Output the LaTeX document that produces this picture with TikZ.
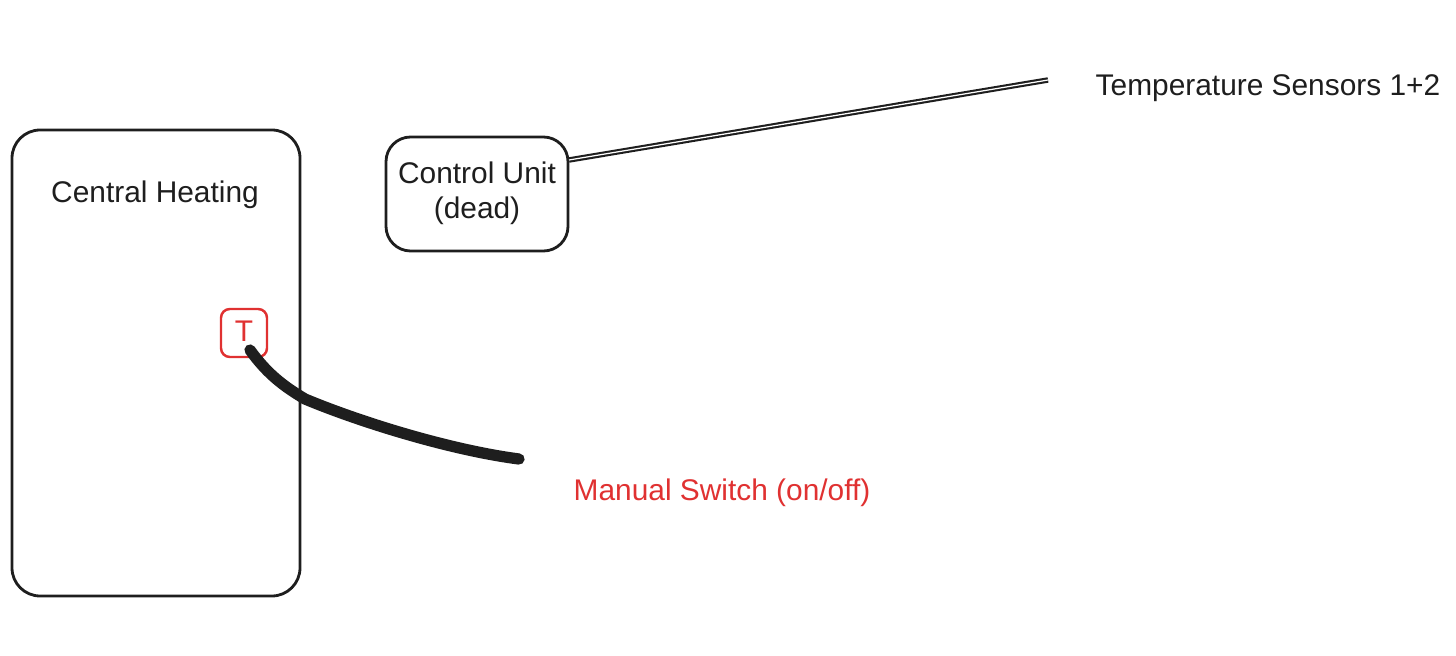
\documentclass[tikz,border=0pt]{standalone}
\usepackage{fontspec}
\setmainfont{Liberation Sans}
\definecolor{exred}{HTML}{E03131}
\definecolor{exblack}{HTML}{1E1E1E}
\tikzset{
  box/.style={draw=exblack, line width=0.8pt, rounded corners=8pt, inner sep=0pt},
  redbox/.style={draw=exred, line width=0.7pt, rounded corners=2.5pt, inner sep=0pt},
  lbl/.style={font=\fontsize{8.5}{10}\selectfont, text=exblack, align=center},
}
\begin{document}
\begin{tikzpicture}
\useasboundingbox (0,0) rectangle (14.56,6.55);
% Central Heating box
\node[box, minimum width=2.88cm, minimum height=4.66cm] (ch) at (1.56,2.92) {};
\node[lbl] (chl) at (1.55,4.60) {Central Heating};
% Control unit
\node[box, minimum width=1.82cm, minimum height=1.14cm, rounded corners=7pt] (cu) at (4.77,4.61) {};
\node[lbl] (cul) at (4.77,4.62) {Control Unit\\(dead)};
% Temperature sensors
\node[lbl, anchor=west, inner sep=0pt] (ts) at (10.95,5.67) {Temperature Sensors 1+2};
\coordinate (tsend) at (10.48,5.75);
\coordinate (cuout) at (5.69,4.95);
\draw[exblack, double=white, double distance=0.35pt, line width=0.6pt] (cuout) -- (tsend);
% T sensor
\node[redbox, minimum width=0.46cm, minimum height=0.48cm] (t) at (2.44,3.22) {};
\node[font=\fontsize{8.5}{10}\selectfont, text=exred] (tl) at (2.44,3.24) {T};
% Manual switch cable
\coordinate (cs) at (2.50,3.05);
\coordinate (ce) at (5.19,1.96);
\draw[exblack, line width=3.2pt, line cap=round] (cs) .. controls (2.68,2.80) and (2.85,2.68) .. (3.05,2.56) .. controls (3.6,2.33) and (4.5,2.05) .. (ce);
\node[lbl, text=exred] (ms) at (7.22,1.62) {Manual Switch (on/off)};
\end{tikzpicture}
\end{document}
